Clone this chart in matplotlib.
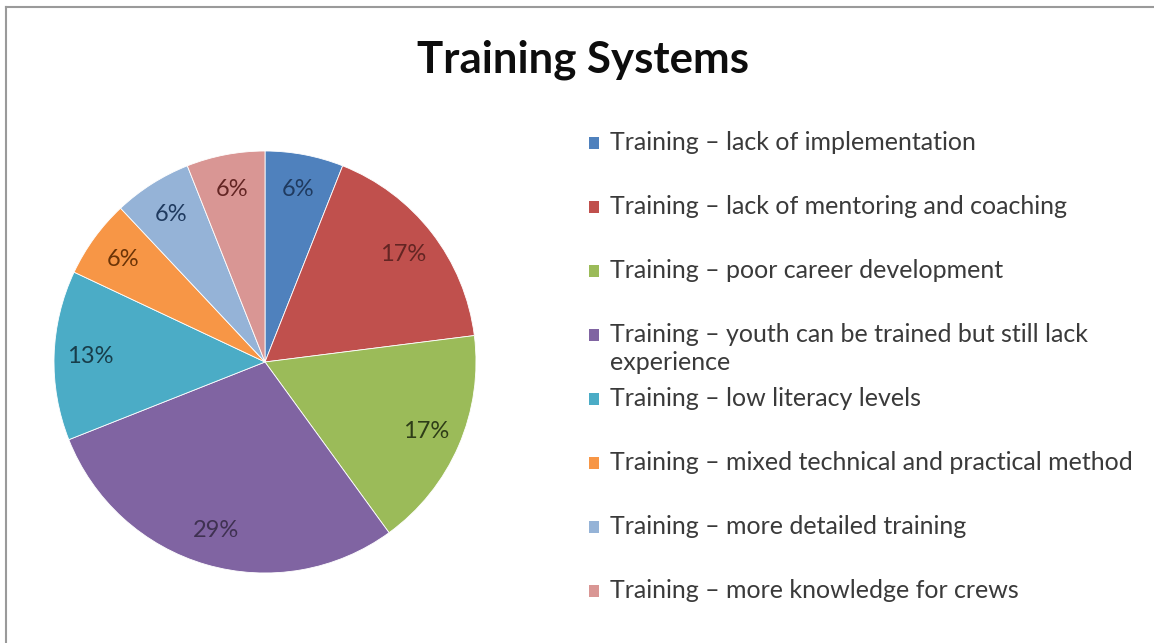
import matplotlib
matplotlib.use("Agg")
import matplotlib.pyplot as plt
from matplotlib.patches import Rectangle
from matplotlib.lines import Line2D

# ---- data ----
categories = [
    "Training \u2013 lack of implementation",
    "Training \u2013 lack of mentoring and coaching",
    "Training \u2013 poor career development",
    "Training \u2013 youth can be trained but still lack\nexperience",
    "Training \u2013 low literacy levels",
    "Training \u2013 mixed technical and practical method",
    "Training \u2013 more detailed training",
    "Training \u2013 more knowledge for crews",
]
values = [6, 17, 17, 29, 13, 6, 6, 6]
colors = ["#4F81BD", "#C0504D", "#9BBB59", "#8064A2",
          "#4BACC6", "#F79646", "#95B3D7", "#D99694"]
label_colors = ["#1F3A5F", "#632523", "#2E3D18", "#3F3151",
                "#183D4A", "#6B3407", "#1F3A5F", "#632523"]
title = "Training Systems"

W, H, DPI = 1154, 643, 100
plt.rcParams['font.family'] = ['Lato', 'DejaVu Sans']
fig = plt.figure(figsize=(W / DPI, H / DPI), dpi=DPI)
fig.patch.set_facecolor("white")

# pie axes: center (265, 362), radius ~211 px
cx, cy, r = 265, 362, 211
ax = fig.add_axes([(cx - r) / W, 1 - (cy + r) / H, 2 * r / W, 2 * r / H])
wedges, texts, autotexts = ax.pie(
    values, colors=colors, startangle=90, counterclock=False,
    autopct=lambda p: f"{p:.0f}%", pctdistance=0.83,
    wedgeprops=dict(edgecolor="white", linewidth=0.6),
    textprops=dict(fontsize=17), radius=1.0)
for t, c in zip(autotexts, label_colors):
    t.set_color(c)
ax.set_xlim(-1, 1)
ax.set_ylim(-1, 1)
ax.set_aspect("equal")
ax.axis("off")

# title
fig.text(583 / W, 1 - 60 / H, title, ha="center", va="center",
         fontsize=31.5, fontweight="bold", color="#0d0d0d")

# legend (manual, Excel-style)
y0, dy = 143, 64
for i, (lab, col) in enumerate(zip(categories, colors)):
    y = y0 + i * dy
    fig.patches.append(Rectangle((589 / W, 1 - (y + 6) / H), 10 / W, 12 / H,
                                 transform=fig.transFigure, facecolor=col,
                                 edgecolor="none"))
    lines = lab.split("\n")
    fig.text(610 / W, 1 - y / H, lines[0], ha="left", va="center",
             fontsize=18, color="#3a3a3a")
    for k, extra in enumerate(lines[1:], start=1):
        fig.text(610 / W, 1 - (y + 27 * k) / H, extra, ha="left",
                 va="center", fontsize=18, color="#3a3a3a")

# frame lines (top and left)
fig.lines.append(Line2D([6 / W, 1], [1 - 7 / H, 1 - 7 / H],
                        transform=fig.transFigure, color="#9a9a9a", lw=1.5))
fig.lines.append(Line2D([6 / W, 6 / W], [0, 1 - 7 / H],
                        transform=fig.transFigure, color="#9a9a9a", lw=1.5))

fig.savefig("out.png", dpi=DPI, facecolor="white")
